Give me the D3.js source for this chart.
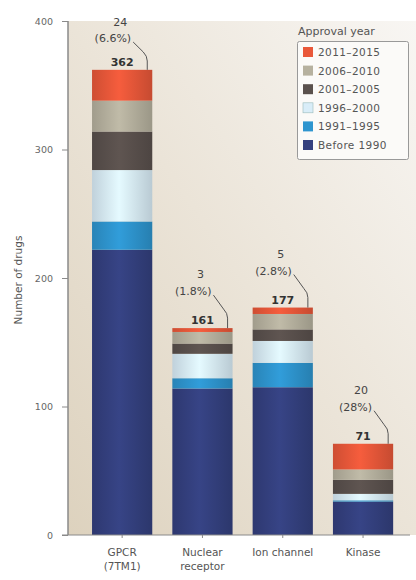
<!DOCTYPE html>
<html><head><meta charset="utf-8">
<script src="https://cdn.jsdelivr.net/npm/d3@7"></script>
<style>body{margin:0;background:#fff}svg{display:block}</style>
</head><body>
<svg id="chart" width="416" height="580"></svg>
<script>
const categories = ["GPCR (7TM1)", "Nuclear receptor", "Ion channel", "Kinase"];
const categoryLines = [["GPCR", "(7TM1)"], ["Nuclear", "receptor"], ["Ion channel"], ["Kinase"]];
const periods = ["Before 1990", "1991–1995", "1996–2000", "2001–2005", "2006–2010", "2011–2015"];
const before1990 = [222, 114, 115, 26];
const y1991_1995 = [22, 8, 19, 1];
const y1996_2000 = [40, 19, 17, 5];
const y2001_2005 = [30, 8, 9, 11];
const y2006_2010 = [24, 9, 12, 8];
const y2011_2015 = [24, 3, 5, 20];
const totals = [362, 161, 177, 71];
const recentCount = ["24", "3", "5", "20"];
const recentPct = ["(6.6%)", "(1.8%)", "(2.8%)", "(28%)"];
const yTicks = [0, 100, 200, 300, 400];
const periodColors = ["#34407f", "#2e95cf", "#d9edf8", "#5a514d", "#b6b19f", "#e9583a"];

const seriesValues = [before1990, y1991_1995, y1996_2000, y2001_2005, y2006_2010, y2011_2015];
const rows = categories.map((c, i) => {
  const r = {cat: c};
  periods.forEach((p, j) => r[p] = seriesValues[j][i]);
  return r;
});

const svg = d3.select("#chart");
const font = "DejaVu Sans, sans-serif";
const defs = svg.append("defs");

const x = d3.scaleBand().domain(categories).range([82, 403.2]).paddingInner(0.25).paddingOuter(0.125);
const y = d3.scaleLinear().domain([0, 400]).range([535, 21]);

// panel gradient background
const bg = defs.append("linearGradient").attr("id", "bg").attr("x1", "0").attr("y1", "1").attr("x2", "1").attr("y2", "0");
bg.append("stop").attr("offset", "0").attr("stop-color", "#ddd2be");
bg.append("stop").attr("offset", "0.5").attr("stop-color", "#ebe4d8");
bg.append("stop").attr("offset", "1").attr("stop-color", "#f8f6f3");
svg.append("rect").attr("x", 68).attr("y", 21).attr("width", 416 - 68).attr("height", 535 - 21).attr("fill", "url(#bg)");

// cylinder gradients
periodColors.forEach((col, j) => {
  const g = defs.append("linearGradient").attr("id", "g" + j).attr("x1", "0").attr("x2", "1").attr("y1", "0").attr("y2", "0");
  const c = d3.color(col);
  g.append("stop").attr("offset", "0").attr("stop-color", c.darker(0.35));
  g.append("stop").attr("offset", "0.45").attr("stop-color", c.brighter(0.15));
  g.append("stop").attr("offset", "1").attr("stop-color", c.darker(0.45));
});

const stack = d3.stack().keys(periods)(rows);
const bars = svg.append("g");
stack.forEach((layer, j) => {
  bars.selectAll(null).data(layer).join("rect")
    .attr("x", d => x(d.data.cat))
    .attr("width", x.bandwidth())
    .attr("y", d => y(d[1]))
    .attr("height", d => y(d[0]) - y(d[1]))
    .attr("fill", "url(#g" + j + ")");
});

// axes
const yAxis = svg.append("g").attr("transform", "translate(68,0)")
  .call(d3.axisLeft(y).tickValues(yTicks).tickSize(6).tickPadding(9));
yAxis.select(".domain").attr("stroke", "#8a8a8a").attr("stroke-width", 1.5).attr("d", "M0," + y(400) + "V" + y(0));
yAxis.selectAll(".tick line").attr("stroke", "#8a8a8a");
yAxis.selectAll(".tick text").attr("fill", "#666").attr("font-family", font).attr("font-size", 9.5);

const xAxis = svg.append("g").attr("transform", "translate(0,535)")
  .call(d3.axisBottom(x).tickSize(3).tickFormat(""));
xAxis.select(".domain").attr("stroke", "#8a8a8a").attr("stroke-width", 1.2).attr("d", "M62,0H410");
xAxis.selectAll(".tick line").attr("stroke", "#8a8a8a");

categories.forEach((c, i) => {
  const t = svg.append("text").attr("x", x(c) + x.bandwidth() / 2).attr("y", 556)
    .attr("text-anchor", "middle").attr("font-family", font).attr("font-size", 10.5).attr("fill", "#555");
  categoryLines[i].forEach((ln, k) => t.append("tspan").attr("x", x(c) + x.bandwidth() / 2).attr("dy", k ? 14 : 0).text(ln));
});

svg.append("text").attr("transform", "translate(22,280) rotate(-90)").attr("text-anchor", "middle")
  .attr("font-family", font).attr("font-size", 10.5).attr("fill", "#555").text("Number of drugs");

// annotations
categories.forEach((c, i) => {
  const top = y(totals[i]);
  const cx = x(c) + x.bandwidth() / 2;
  const right = x(c) + x.bandwidth();
  const nY = Math.max(top - 54, 22);
  const pY = Math.max(top - 37, nY + 16);
  svg.append("text").attr("x", cx).attr("y", top - 4).attr("text-anchor", "middle")
    .attr("font-family", font).attr("font-size", 11).attr("font-weight", "bold").attr("fill", "#333").text(totals[i]);
  svg.append("text").attr("x", cx - 2).attr("y", nY + 4).attr("text-anchor", "middle")
    .attr("font-family", font).attr("font-size", 11).attr("fill", "#444").text(recentCount[i]);
  svg.append("text").attr("x", cx + 9).attr("y", pY + 4).attr("text-anchor", "end")
    .attr("font-family", font).attr("font-size", 11).attr("fill", "#444").text(recentPct[i]);
  const sx = cx + 11, sy = pY + 4;
  const ex = right - 5, ey = Math.max(top - 15, pY + 18);
  svg.append("path").attr("fill", "none").attr("stroke", "#555").attr("stroke-width", 1)
    .attr("d", `M ${sx} ${sy} L ${ex - 4} ${ey - 4} Q ${ex} ${ey} ${ex} ${ey + 5} V ${top}`);
});

// legend
const lg = svg.append("g");
lg.append("text").attr("x", 298).attr("y", 35).attr("font-family", font).attr("font-size", 11).attr("fill", "#555").text("Approval year");
lg.append("rect").attr("x", 297.5).attr("y", 41.5).attr("width", 111).attr("height", 118).attr("rx", 2)
  .attr("fill", "#fbfaf8").attr("stroke", "#999").attr("stroke-width", 1);
const legendOrder = periods.slice().reverse();
legendOrder.forEach((p, k) => {
  const j = periods.indexOf(p);
  const cy = 52 + k * 18.6;
  lg.append("rect").attr("x", 303).attr("y", cy - 5).attr("width", 10).attr("height", 10)
    .attr("fill", periodColors[j]).attr("stroke", j === 2 ? "#9bb" : "none").attr("stroke-width", 0.6);
  lg.append("text").attr("x", 318).attr("y", cy + 4).attr("font-family", font).attr("font-size", 10.5)
    .attr("letter-spacing", 0.4).attr("fill", "#555").text(p);
});
</script>
</body></html>
